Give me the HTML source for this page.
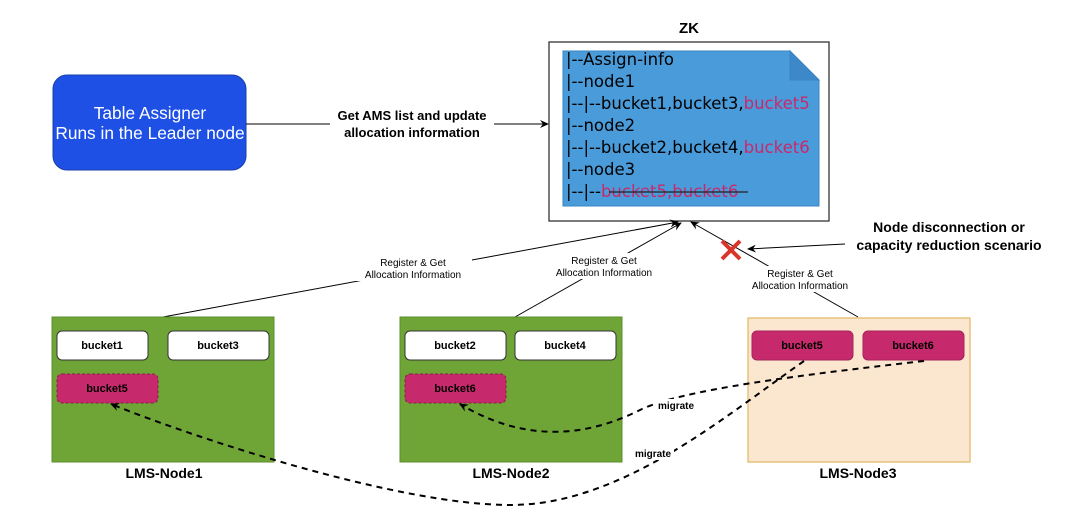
<!DOCTYPE html>
<html><head><meta charset="utf-8"><style>
html,body{margin:0;padding:0;background:#fff;}
svg{display:block;}
text{font-family:"Liberation Sans",Arial,sans-serif;}
.b{font-weight:bold;}
text.zk{font-family:"DejaVu Sans",sans-serif;font-size:16.5px;}
</style></head><body>
<svg width="1080" height="512" viewBox="0 0 1080 512" xmlns="http://www.w3.org/2000/svg">
<defs>
<marker id="ar" markerWidth="10" markerHeight="10" refX="8" refY="5" orient="auto" markerUnits="userSpaceOnUse">
<path d="M0,1 L9,5 L0,9 L3,5 z" fill="#000"/></marker>
</defs>
<rect x="53" y="75" width="193" height="95" rx="14" fill="#1f50e6" stroke="#1a3fa8"/>
<text x="150" y="119" fill="#fff" font-size="17.3" text-anchor="middle">Table Assigner</text>
<text x="150" y="139" fill="#fff" font-size="17.3" text-anchor="middle">Runs in the Leader node</text>
<line x1="246" y1="124" x2="548" y2="124" stroke="#000" marker-end="url(#ar)"/>
<rect x="330" y="110" width="164" height="30" fill="#fff"/>
<text x="412" y="120" class="b" font-size="13" text-anchor="middle">Get AMS list and update</text>
<text x="412" y="137" class="b" font-size="13" text-anchor="middle">allocation information</text>
<text x="689" y="33" class="b" font-size="15" text-anchor="middle">ZK</text>
<rect x="549" y="42" width="280" height="179" fill="#fff" stroke="#333" stroke-width="1.3"/>
<path d="M563,51 L790,51 L819,80 L819,206 L563,206 z" fill="#4a9bd9" stroke="#3a86c4"/>
<path d="M790,51 L790,80 L819,80 z" fill="#3d88c8" stroke="#3a86c4"/>
<text class="zk" x="566" y="65">|--Assign-info</text>
<text class="zk" x="566" y="87">|--node1</text>
<text class="zk" x="566" y="109">|--|--bucket1,bucket3,<tspan fill="#c9296b">bucket5</tspan></text>
<text class="zk" x="566" y="131">|--node2</text>
<text class="zk" x="566" y="153">|--|--bucket2,bucket4,<tspan fill="#c9296b">bucket6</tspan></text>
<text class="zk" x="566" y="175">|--node3</text>
<text class="zk" x="566" y="197">|--|--<tspan fill="#c9296b">bucket5,bucket6</tspan></text>
<line x1="609" y1="192" x2="748" y2="192" stroke="#222" stroke-width="1.2"/>
<line x1="163" y1="317" x2="678" y2="222" stroke="#000" marker-end="url(#ar)"/>
<line x1="515" y1="317" x2="681" y2="223" stroke="#000" marker-end="url(#ar)"/>
<line x1="858" y1="317" x2="691" y2="222" stroke="#000" marker-end="url(#ar)"/>
<rect x="355" y="255" width="117" height="26" fill="#fff"/>
<text x="413" y="266" font-size="10" text-anchor="middle">Register &amp; Get</text>
<text x="413" y="278" font-size="10" text-anchor="middle">Allocation Information</text>
<rect x="546" y="253" width="117" height="26" fill="#fff"/>
<text x="604" y="264" font-size="10" text-anchor="middle">Register &amp; Get</text>
<text x="604" y="276" font-size="10" text-anchor="middle">Allocation Information</text>
<rect x="742" y="266" width="117" height="26" fill="#fff"/>
<text x="800" y="277" font-size="10" text-anchor="middle">Register &amp; Get</text>
<text x="800" y="289" font-size="10" text-anchor="middle">Allocation Information</text>
<line x1="722" y1="241" x2="740" y2="259" stroke="#d9362b" stroke-width="4"/>
<line x1="740" y1="241" x2="722" y2="259" stroke="#d9362b" stroke-width="4"/>
<line x1="845" y1="244" x2="748" y2="249" stroke="#000" marker-end="url(#ar)"/>
<text x="949" y="232" class="b" font-size="14" text-anchor="middle">Node disconnection or</text>
<text x="949" y="250" class="b" font-size="14" text-anchor="middle">capacity reduction scenario</text>
<rect x="52" y="317" width="222" height="145" fill="#6fa437" stroke="#5e8e2e"/>
<rect x="400" y="317" width="222" height="145" fill="#6fa437" stroke="#5e8e2e"/>
<rect x="748" y="318" width="222" height="144" fill="#fbe6cf" stroke="#e5bb6e" stroke-width="1.3"/>
<g font-size="11" text-anchor="middle">
<rect x="57" y="331" width="91" height="29" rx="5" fill="#fff" stroke="#333"/><text class="b" x="102" y="349">bucket1</text>
<rect x="168" y="331" width="101" height="29" rx="5" fill="#fff" stroke="#333"/><text class="b" x="218" y="349">bucket3</text>
<rect x="57" y="374" width="101" height="29" rx="5" fill="#c72a6c" stroke="#8a1d4a" stroke-dasharray="3,2"/><text class="b" x="107" y="392">bucket5</text>
<rect x="405" y="331" width="101" height="29" rx="5" fill="#fff" stroke="#333"/><text class="b" x="455" y="349">bucket2</text>
<rect x="515" y="331" width="101" height="29" rx="5" fill="#fff" stroke="#333"/><text class="b" x="565" y="349">bucket4</text>
<rect x="405" y="374" width="101" height="29" rx="5" fill="#c72a6c" stroke="#8a1d4a" stroke-dasharray="3,2"/><text class="b" x="455" y="392">bucket6</text>
<rect x="752" y="331" width="101" height="29" rx="5" fill="#c72a6c" stroke="#a5245a"/><text class="b" x="802" y="349">bucket5</text>
<rect x="863" y="331" width="101" height="29" rx="5" fill="#c72a6c" stroke="#a5245a"/><text class="b" x="913" y="349">bucket6</text>
</g>
<g font-size="14" text-anchor="middle">
<text class="b" x="164" y="478">LMS-Node1</text>
<text class="b" x="511" y="478">LMS-Node2</text>
<text class="b" x="858" y="478">LMS-Node3</text>
</g>
<path d="M804,361 C720,420 620,505 510,505 C400,505 200,440 111,404" fill="none" stroke="#000" stroke-width="2" stroke-dasharray="6,5" marker-end="url(#ar)"/>
<path d="M924,361 C800,375 680,390 640,410 C580,440 520,440 460,404" fill="none" stroke="#000" stroke-width="2" stroke-dasharray="6,5" marker-end="url(#ar)"/>
<rect x="655" y="399" width="42" height="13" fill="#fff"/>
<text x="676" y="409" class="b" font-size="10" text-anchor="middle">migrate</text>
<rect x="632" y="447" width="42" height="13" fill="#fff"/>
<text x="653" y="457" class="b" font-size="10" text-anchor="middle">migrate</text>
</svg>
</body></html>
